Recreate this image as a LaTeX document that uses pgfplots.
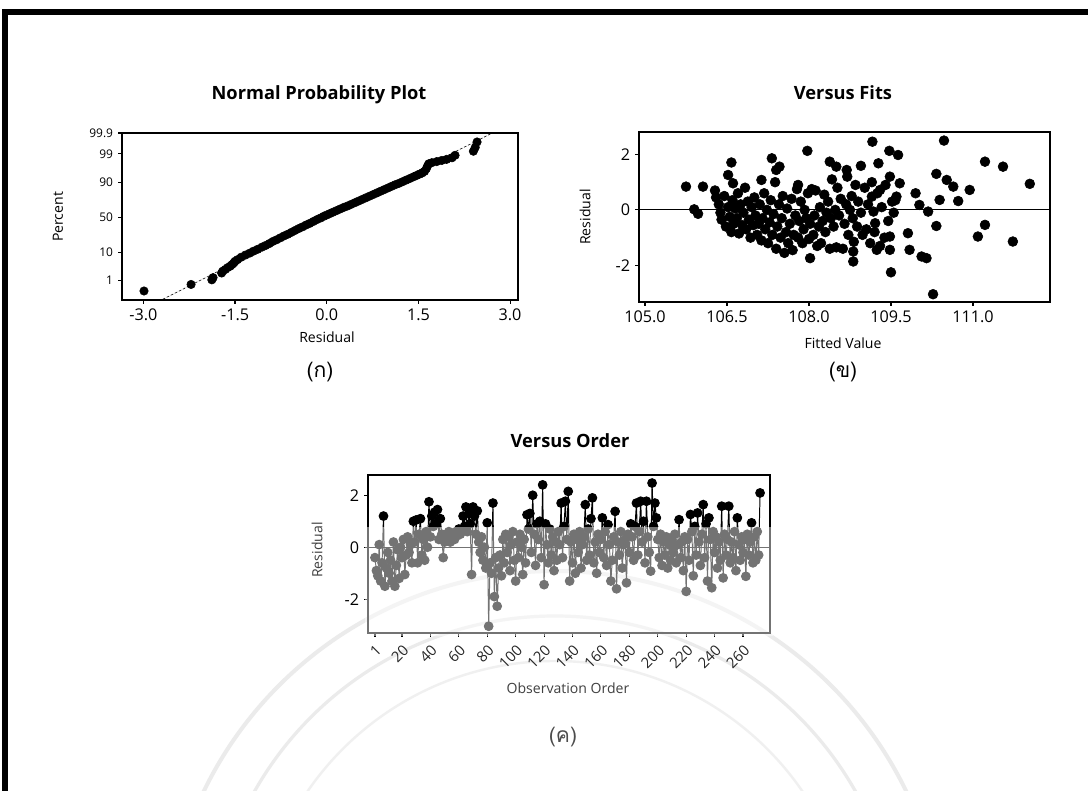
\documentclass[border=0pt]{standalone}
\usepackage{fontspec}
\setmainfont{Open Sans}
\newfontfamily\thaifont[Script=Thai]{Loma}
\usepackage{pgfplots}
\pgfplotsset{compat=1.18}

\pgfplotsset{
  mini/.style={
    scale only axis,
    axis line style={line width=1.1pt},
    tick style={black, line width=0.8pt},
    major tick length=1mm,
    tick align=outside,
    tick pos=left,
    tick label style={font=\fontsize{11.5}{12}\selectfont},
  },
}

\pgfplotstableread{
obs res
1 -0.4
2 -0.9
3 -1.1
4 0.1
5 -1.3
6 -0.6
7 1.2
8 -1.5
9 -0.8
10 -0.2
11 -1.0
12 -0.5
13 -1.3
14 0.2
15 -1.5
16 -0.7
17 -0.1
18 -1.2
19 0.0
20 -0.4
21 0.3
22 -1.05
23 -0.3
24 0.4
25 -0.2
26 0.1
27 -0.6
28 1.0
29 0.2
30 1.05
31 -0.6
32 0.5
33 1.1
34 -0.3
35 0.3
36 -0.5
37 0.6
38 0.0
39 1.75
40 0.4
41 1.2
42 0.8
43 1.35
44 0.9
45 1.45
46 0.3
47 1.1
48 0.5
49 -0.4
50 0.2
51 0.5
52 0.3
53 0.6
54 0.2
55 0.4
56 0.5
57 0.3
58 0.6
59 0.45
60 0.7
61 0.5
62 0.6
63 1.2
64 0.8
65 1.55
66 0.6
67 1.3
68 0.9
69 -1.05
70 1.55
71 1.2
72 0.5
73 1.4
74 0.2
75 -0.2
76 0.4
77 -0.5
78 0.0
79 -0.8
80 0.94
81 -3.04
82 -0.6
83 -1.0
84 1.7
85 -1.9
86 -0.4
87 -2.27
88 -0.8
89 -0.3
90 -1.1
91 0.3
92 -0.6
93 0.5
94 -0.2
95 0.4
96 -0.9
97 0.1
98 0.6
99 -0.5
100 -1.3
101 0.2
102 -0.4
103 0.5
104 0.0
105 -1.05
106 0.3
107 -0.6
108 1.25
109 0.7
110 1.3
111 -0.2
112 2.0
113 0.5
114 -0.7
115 0.9
116 0.3
117 1.0
118 -0.4
119 2.4
120 -1.44
121 0.9
122 0.1
123 -0.6
124 0.7
125 -0.3
126 0.4
127 -0.9
128 0.2
129 -0.5
130 0.6
131 0.1
132 1.7
133 -0.4
134 0.8
135 1.77
136 0.3
137 2.15
138 -1.3
139 0.2
140 -0.6
141 0.5
142 -1.0
143 0.3
144 -0.2
145 0.6
146 -0.8
147 0.1
148 0.4
149 1.64
150 -0.5
151 0.7
152 -0.3
153 1.1
154 1.9
155 -0.6
156 0.2
157 -1.0
158 0.5
159 -0.2
160 0.3
161 1.13
162 -0.4
163 0.6
164 -0.7
165 0.87
166 0.1
167 -1.3
168 -0.5
169 0.4
170 1.38
171 -1.6
172 0.2
173 -0.3
174 0.6
175 -0.8
176 0.1
177 0.3
178 -1.37
179 0.5
180 -0.2
181 0.9
182 0.4
183 -0.5
184 0.8
185 1.7
186 -0.3
187 0.6
188 1.77
189 0.2
190 1.0
191 -0.6
192 1.77
193 0.4
194 -0.2
195 -0.92
196 2.47
197 0.8
198 1.7
199 1.13
200 0.3
201 -0.4
202 0.5
203 -0.7
204 0.2
205 -0.3
206 0.4
207 -0.8
208 0.1
209 -0.5
210 0.3
211 -0.2
212 0.5
213 -0.6
214 0.1
215 1.06
216 -0.4
217 0.2
218 -0.9
219 0.4
220 -1.7
221 0.3
222 -0.5
223 1.26
224 0.6
225 -1.1
226 0.8
227 -0.3
228 1.32
229 0.2
230 -0.7
231 0.5
232 1.64
233 -0.4
234 0.9
235 -1.3
236 1.13
237 0.3
238 -1.56
239 0.6
240 -0.2
241 0.4
242 -0.8
243 0.2
244 -0.5
245 1.58
246 -1.18
247 0.5
248 -0.3
249 0.3
250 1.58
251 -0.6
252 0.2
253 -0.4
254 0.6
255 -0.9
256 1.13
257 0.1
258 -0.5
259 0.4
260 -0.2
261 0.3
262 -1.12
263 0.5
264 -0.3
265 0.2
266 0.94
267 -0.6
268 0.4
269 -0.5
270 0.6
271 -0.3
272 2.09
}\ordertable

\begin{document}
\begin{tikzpicture}[x=0.25mm,y=0.25mm]
\useasboundingbox (0,0) rectangle (1088,791);
\fill[white] (0,0) rectangle (1088,791);

% faint seal in the background
\begin{scope}
\clip (0,0) rectangle (1088,791);
\draw[gray!16, line width=1mm] (555,-170) circle[radius=390];
\draw[gray!16, line width=0.8mm] (555,-170) circle[radius=345];
\draw[gray!12, line width=0.6mm] (555,-170) circle[radius=300];
\end{scope}

% page frame (left and top only)
\draw[line width=1.5mm] (5,0) -- (5,779) -- (1088,779);

% ---------------- Normal probability plot
\begin{axis}[mini,
  at={(30.5mm,122.75mm)}, anchor=south west,
  width=99mm, height=41.75mm,
  xmin=-3.35, xmax=3.13, ymin=-3.04, ymax=3.09,
  xtick={-3,-1.5,0,1.5,3},
  xticklabels={-3.0,-1.5,0.0,1.5,3.0},
  ytick={-3.09,-2.326,-1.2816,0,1.2816,2.326,3.09},
  yticklabels={0.1,1,10,50,90,99,99.9},
  y tick label style={font=\fontsize{8.5}{9}\selectfont},
]
\addplot[black, thin, dash pattern=on 2pt off 1.2pt]
  coordinates {(-2.75,-3.09) (2.71,3.09)};
\addplot[only marks, mark=*, mark size=3pt, black] coordinates {
(-2.99,-2.71) (-2.22,-2.47) (-1.88,-2.30) (-1.86,-2.22) (-1.72,-2.05)
(-1.70,-1.98) (-1.66,-1.92) (-1.62,-1.85) (-1.58,-1.80) (-1.55,-1.74)
(-1.52,-1.68) (-1.50,-1.62) (-1.46,-1.56) (-1.40,-1.47) (-1.33,-1.39)
(-1.26,-1.32) (-1.20,-1.25) (-1.13,-1.18) (-1.06,-1.10) (-1.00,-1.04)
(-0.94,-0.97) (-0.88,-0.89) (-0.82,-0.83) (-0.76,-0.76) (-0.70,-0.69)
(-0.64,-0.63) (-0.58,-0.56) (-0.52,-0.49) (-0.46,-0.42) (-0.40,-0.36)
(-0.34,-0.29) (-0.28,-0.23) (-0.22,-0.16) (-0.16,-0.09) (-0.10,-0.03)
(-0.05,0.03) (0.00,0.08) (0.05,0.13) (0.10,0.18) (0.16,0.24)
(0.22,0.30) (0.28,0.36) (0.34,0.41) (0.40,0.47) (0.46,0.53)
(0.52,0.59) (0.58,0.65) (0.64,0.71) (0.70,0.77) (0.76,0.83)
(0.82,0.89) (0.88,0.95) (0.94,1.01) (1.00,1.07) (1.06,1.13)
(1.12,1.19) (1.18,1.24) (1.24,1.30) (1.30,1.36) (1.36,1.42)
(1.42,1.48) (1.47,1.53) (1.52,1.58) (1.56,1.62) (1.60,1.68)
(1.63,1.78) (1.65,1.88) (1.67,1.96) (1.72,2.00) (1.80,2.04)
(1.88,2.08) (1.96,2.12) (2.05,2.18) (2.10,2.27) (2.40,2.42)
(2.43,2.56) (2.46,2.76)
};
\end{axis}

% ---------------- Versus fits
\begin{axis}[mini,
  at={(159.75mm,122.25mm)}, anchor=south west,
  width=102.75mm, height=42.5mm,
  xmin=104.89, xmax=112.41, ymin=-3.32, ymax=2.81,
  xtick={105,106.5,108,109.5,111},
  xticklabels={105.0,106.5,108.0,109.5,111.0},
  ytick={-2,0,2}, yticklabels={-2,0,2},
]
\addplot[black, line width=0.8pt] coordinates {(104.89,0) (112.41,0)};
\addplot[only marks, mark=*, mark size=3.5pt, black] coordinates {
(105.75,0.84) (105.90,0.02) (105.97,-0.14) (106.06,0.84) (106.28,0.70)
(106.58,1.71) (106.52,1.26) (106.61,0.96) (107.13,1.08) (107.32,1.86)
(107.40,1.44) (107.46,1.56) (107.97,2.13) (107.80,0.90) (108.02,-1.74)
(108.38,1.74) (108.50,1.56) (108.69,1.44) (108.95,1.59) (109.16,2.46)
(109.27,1.68) (109.47,2.13) (109.63,1.98) (109.48,1.20) (109.66,0.96)
(109.95,0.60) (109.60,0.48) (110.02,0.18) (110.18,-0.06) (109.81,-0.84)
(109.84,-1.44) (110.06,-1.68) (110.15,-1.74) (109.48,-0.96) (109.48,-1.44)
(109.50,-2.25) (110.27,-3.04) (110.33,-0.58) (110.33,1.30) (110.39,0.36)
(110.47,2.50) (110.52,1.08) (110.64,0.84) (110.73,0.32) (110.94,0.72)
(111.09,-0.96) (111.22,1.74) (111.22,-0.54) (111.55,1.56) (111.73,-1.14)
(112.04,0.94) (108.81,-1.50) (108.81,-1.86) (109.21,-0.48) (109.18,-0.06)
(109.24,-1.44) (109.15,0.48) (109.30,0.72)
(106.30,0.45) (106.35,0.20) (106.38,-0.10) (106.40,-0.35) (106.45,0.50)
(106.48,-0.60) (106.52,0.10) (106.55,-0.25) (106.58,-0.80) (106.60,0.35)
(106.62,-0.50) (106.65,0.05) (106.68,-0.30) (106.70,0.60) (106.72,-0.85)
(106.75,0.20) (106.78,-0.55) (106.80,-0.10) (106.83,0.80) (106.85,-0.70)
(106.88,0.30) (106.90,-0.35) (106.93,-1.00) (106.95,0.10) (106.98,-0.55)
(107.00,0.45) (107.02,-0.20) (107.05,-0.90) (107.08,-0.50) (107.10,0.20)
(107.13,-1.10) (107.15,-0.30) (107.18,0.60) (107.20,-0.70) (107.23,0.00)
(107.25,-1.20) (107.28,-0.45) (107.30,0.35) (107.33,-0.90) (107.35,-0.15)
(107.38,1.00) (107.40,-1.40) (107.42,-0.60) (107.45,0.20) (107.48,-1.00)
(107.50,-0.30) (107.52,0.50) (107.55,-1.55) (107.58,-0.80) (107.60,0.05)
(107.62,-1.20) (107.65,-0.50) (107.68,0.40) (107.70,-1.45) (107.72,-0.90)
(107.75,-0.20) (107.78,0.75) (107.80,-1.00) (107.82,-0.40) (107.85,0.30)
(107.88,-1.20) (107.90,-0.70) (107.92,0.00) (107.95,-0.30) (107.98,0.60)
(108.00,-1.05) (108.02,-0.50) (108.05,0.75) (108.08,-0.90) (108.10,-0.20)
(108.12,0.70) (108.15,-1.30) (108.18,-0.60) (108.20,0.10) (108.22,-1.20)
(108.25,-0.40) (108.28,0.55) (108.30,-0.80) (108.32,-0.10) (108.35,0.30)
(108.38,-1.40) (108.40,-0.30) (108.42,1.10) (108.45,-0.60) (108.48,0.00)
(108.50,-1.35) (108.52,0.80) (108.55,-0.20) (108.58,0.40) (108.62,-1.40)
(108.65,-0.50) (108.68,0.20) (108.70,1.20) (108.72,-0.90) (108.75,0.00)
(108.78,0.50) (108.80,-0.30) (108.82,-1.15) (108.85,0.90) (108.88,-0.60)
(108.90,0.30) (108.95,-0.10) (108.98,-0.90) (109.02,0.80) (109.05,-0.70)
(109.08,0.20) (109.12,-1.20) (109.15,1.00) (109.20,-0.80) (109.25,0.60)
(109.30,-1.30) (109.33,0.10) (109.38,-1.00) (109.40,0.90) (109.45,-0.40)
(109.52,0.30) (109.55,-0.10) (109.58,0.35)
};
\end{axis}

% ---------------- Versus order
\begin{axis}[mini,
  at={(92mm,39.5mm)}, anchor=south west,
  width=100.5mm, height=39.5mm,
  xmin=-3.9, xmax=279, ymin=-3.3, ymax=2.78,
  xtick={1,20,40,60,80,100,120,140,160,180,200,220,240,260},
  xticklabels={1,20,40,60,80,100,120,140,160,180,200,220,240,260},
  x tick label style={rotate=45, anchor=north east, font=\fontsize{10.5}{11}\selectfont, text=black!85},
  ytick={-2,0,2}, yticklabels={-2,0,2},
]
\addplot[black, line width=0.5pt] coordinates {(-3.9,0) (279,0)};
\addplot[black, line width=0.7pt, mark=*, mark size=3.1pt] table[x=obs, y=res] {\ordertable};
\end{axis}
% washed-out lower part of the scanned panel
\fill[white, opacity=0.45] (365,155) rectangle (773,264);

% ---------------- titles, labels, captions
\node[font=\fontsize{13}{15}\selectfont\bfseries] at (319,696) {Normal Probability Plot};
\node[font=\fontsize{13}{15}\selectfont\bfseries] at (843,698) {Versus Fits};
\node[font=\fontsize{13}{15}\selectfont\bfseries] at (570,350) {Versus Order};

\node[font=\fontsize{10}{12}\selectfont] at (327,454) {Residual};
\node[font=\fontsize{10}{12}\selectfont] at (843,448) {Fitted Value};
\node[font=\fontsize{10}{12}\selectfont, text=black!75] at (568,103) {Observation Order};

\node[font=\fontsize{10}{12}\selectfont, rotate=90] at (58,574) {Percent};
\node[font=\fontsize{10}{12}\selectfont, rotate=90] at (585,574) {Residual};
\node[font=\fontsize{10}{12}\selectfont, rotate=90, text=black!75] at (317,241) {Residual};

\node[font=\thaifont\fontsize{15}{17}\selectfont] at (320,419) {(ก)};
\node[font=\thaifont\fontsize{15}{17}\selectfont] at (843,419) {(ข)};
\node[font=\thaifont\fontsize{15}{17}\selectfont, text=black!70] at (563,54) {(ค)};
\end{tikzpicture}
\end{document}
